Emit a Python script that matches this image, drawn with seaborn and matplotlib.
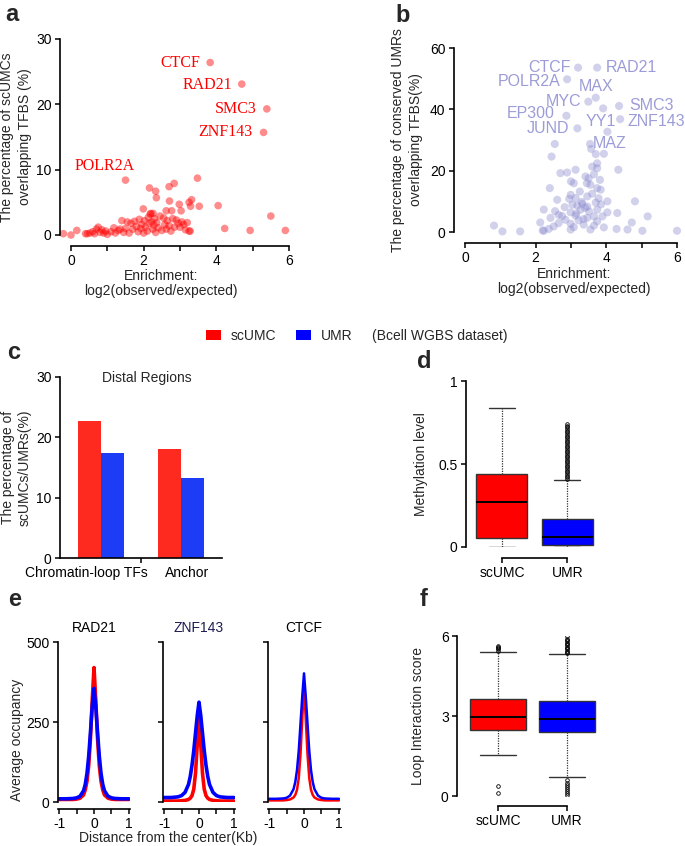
import numpy as np
import pandas as pd
import matplotlib
matplotlib.use("Agg")
import matplotlib.pyplot as plt
import seaborn as sns
from matplotlib.patches import Patch
from matplotlib.transforms import ScaledTranslation

# ---------------- data ----------------
# panel a: scUMC TFBS enrichment
a_x = [3.83, 4.70, 5.39, 5.30, 1.50, 3.48, 2.16, 2.33, 2.35, 2.70, 2.84, 1.99, 2.71, 2.98,
       3.32, 3.25, 3.29, 3.53, 4.05, 2.62, 2.77, 3.03, 5.50, 2.20, 2.26, 4.23, 4.93, 5.90, 3.28,
       -0.21, 0.00, 0.16, 0.40, 0.45, 0.52, 0.60, 0.65, 0.70, 0.75, 0.80, 0.85, 0.90, 0.95, 1.00,
       1.10, 1.18, 1.22, 1.30, 1.35, 1.40, 1.45, 1.50, 1.55, 1.60, 1.65, 1.70, 1.75, 1.80, 1.85,
       1.88, 1.92, 1.95, 2.00, 2.02, 2.05, 2.10, 2.13, 2.15, 2.18, 2.22, 2.25, 2.28, 2.30, 2.33,
       2.36, 2.40, 2.45, 2.50, 2.55, 2.58, 2.62, 2.65, 2.70, 2.75, 2.80, 2.85, 2.90, 2.95, 3.00,
       3.05, 3.10, 3.15, 3.20, 3.25]
a_y = [26.4, 23.1, 19.3, 15.7, 8.4, 8.7, 7.2, 6.7, 5.7, 7.4, 7.9, 4.0, 5.2, 4.7,
       5.4, 5.0, 4.4, 4.4, 4.5, 3.7, 3.7, 3.7, 2.9, 3.3, 3.3, 1.0, 0.7, 0.7, 0.6,
       0.2, 0.0, 0.7, 0.2, 0.2, 0.3, 0.5, 0.2, 0.9, 1.2, 0.4, 0.8, 0.3, 0.6, 0.1,
       0.5, 1.1, 0.3, 0.7, 0.9, 2.2, 0.4, 1.0, 2.0, 0.3, 1.8, 0.9, 2.1, 1.3, 0.5,
       2.4, 1.0, 1.6, 0.3, 2.2, 1.2, 0.6, 2.7, 1.8, 3.2, 2.0, 0.9, 1.5, 2.5, 0.4,
       1.9, 1.1, 2.9, 0.7, 2.6, 1.6, 0.9, 2.2, 1.4, 0.6, 2.5, 1.2, 2.3, 1.8, 1.2,
       2.0, 1.6, 0.8, 1.9, 0.6]
a_labels = ["CTCF", "RAD21", "SMC3", "ZNF143", "POLR2A"]
a_label_x = [3.55, 4.43, 5.12, 4.98, 0.11]
a_label_y = [26.3, 23.0, 19.3, 15.8, 10.6]
a_label_ha = ["right", "right", "right", "right", "left"]

# panel b: conserved UMR TFBS enrichment
b_x = [3.20, 3.74, 2.89, 3.70, 3.49, 4.36, 3.91, 2.87, 4.39, 4.03, 3.18, 2.54, 3.54, 3.57,
       3.93, 2.45, 3.70, 4.34,
       3.74, 3.60, 3.74, 3.13, 2.89, 2.70, 3.41, 3.82, 3.08, 3.45, 3.55, 3.74, 2.40, 3.84,
       3.25, 2.99, 3.46, 3.13, 2.61, 4.03, 3.70, 3.32, 3.04, 3.18, 3.46, 2.82, 2.23, 3.27,
       3.74, 3.51, 2.99, 4.03, 4.31, 2.65, 3.13, 3.65, 2.42, 3.89, 3.46, 2.84, 3.22, 3.74,
       2.13, 2.65, 2.99, 3.36, 3.65, 2.51, 3.08, 3.93, 2.37, 2.99, 3.55, 2.23,
       0.82, 1.06, 1.56, 2.20, 4.60, 5.02, 6.00, 4.81, 5.17, 4.72, 4.29,
       3.30, 3.60, 2.95, 3.40, 3.15, 3.85, 2.75, 3.50, 3.00, 3.65, 2.55, 3.35, 3.78]
b_y = [53.6, 53.6, 49.8, 43.8, 42.5, 41.1, 40.3, 37.9, 36.8, 32.7, 33.8, 28.7, 28.7, 27.1,
       25.5, 24.6, 25.4, 20.3,
       22.4, 21.3, 20.8, 20.3, 19.4, 19.2, 18.1, 17.0, 15.9, 15.9, 15.4, 14.3, 14.3, 13.8,
       13.2, 12.1, 11.6, 11.1, 10.5, 10.0, 9.6, 9.2, 8.9, 8.6, 8.3, 8.1, 7.3, 7.3,
       7.3, 6.7, 6.4, 6.4, 6.2, 5.6, 5.3, 5.1, 4.6, 5.1, 4.6, 4.0, 3.8, 3.5,
       3.1, 2.9, 2.7, 2.4, 2.1, 1.8, 1.6, 1.5, 1.0, 0.8, 0.8, 0.4,
       2.1, 0.2, 0.2, 0.5, 0.8, 0.4, 0.4, 10.0, 5.1, 3.1, 1.0,
       9.8, 12.5, 10.8, 7.9, 6.0, 9.0, 5.2, 17.5, 16.5, 18.8, 6.8, 4.2, 11.0]
b_labels = ["CTCF", "RAD21", "POLR2A", "MAX", "MYC", "SMC3", "EP300", "YY1", "ZNF143", "JUND", "MAZ"]
b_label_x = [3.00, 3.99, 2.69, 3.23, 3.28, 4.64, 2.55, 3.40, 4.59, 2.94, 3.62]
b_label_y = [53.8, 53.8, 49.2, 47.3, 42.7, 41.1, 38.5, 35.9, 35.9, 33.6, 29.0]
b_label_ha = ["right", "left", "right", "left", "right", "left", "right", "left", "left", "right", "left"]

# panel c: distal regions
c_cats = ["Chromatin-loop TFs", "Anchor"]
c_scumc = [22.7, 18.0]
c_umr = [17.4, 13.3]

# panel d: methylation level box stats
d_groups = ["scUMC", "UMR"]
d_med = [0.27, 0.058]
d_q1 = [0.054, 0.012]
d_q3 = [0.441, 0.168]
d_whislo = [0.0, 0.0]
d_whishi = [0.838, 0.403]
d_fliers_scumc = []
d_fliers_umr = [0.41, 0.42, 0.43, 0.44, 0.45, 0.46, 0.47, 0.48, 0.49, 0.50, 0.51, 0.52, 0.53,
                0.54, 0.55, 0.56, 0.57, 0.58, 0.59, 0.60, 0.61, 0.62, 0.63, 0.64, 0.65, 0.66,
                0.67, 0.68, 0.69, 0.70, 0.71, 0.72, 0.73, 0.74]

# panel e: average occupancy profiles
e_x = [-1.0, -0.8, -0.6, -0.5, -0.4, -0.3, -0.25, -0.2, -0.15, -0.1, -0.05, 0.0,
       0.05, 0.1, 0.15, 0.2, 0.25, 0.3, 0.4, 0.5, 0.6, 0.8, 1.0]
e_tfs = ["RAD21", "ZNF143", "CTCF"]
e_rad21_scumc = [8, 8, 8, 9, 12, 22, 38, 65, 115, 200, 320, 420, 320, 200, 115, 65, 38, 22, 12, 9, 8, 8, 8]
e_rad21_umr = [10, 10, 11, 13, 18, 35, 55, 90, 145, 220, 300, 355, 300, 220, 145, 90, 55, 35, 18, 13, 11, 10, 10]
e_znf143_scumc = [3, 3, 3, 4, 5, 8, 12, 20, 40, 90, 180, 268, 180, 90, 40, 20, 12, 8, 5, 4, 3, 3, 3]
e_znf143_umr = [14, 14, 16, 20, 30, 55, 80, 115, 160, 215, 270, 312, 270, 215, 160, 115, 80, 55, 30, 20, 16, 14, 14]
e_ctcf_scumc = [5, 5, 5, 6, 8, 14, 22, 38, 75, 150, 260, 368, 260, 150, 75, 38, 22, 14, 8, 6, 5, 5, 5]
e_ctcf_umr = [10, 10, 11, 13, 20, 40, 62, 100, 160, 245, 330, 402, 330, 245, 160, 100, 62, 40, 20, 13, 11, 10, 10]

# panel f: loop interaction score box stats
f_med = [2.96, 2.89]
f_q1 = [2.47, 2.41]
f_q3 = [3.65, 3.57]
f_whislo = [1.53, 0.71]
f_whishi = [5.39, 5.31]
f_fliers_scumc = [5.45, 5.50, 5.55, 5.60, 5.63, 0.36, 0.13]
f_fliers_umr = [5.35, 5.40, 5.45, 5.50, 5.55, 5.60, 5.65, 5.70, 5.75, 5.80, 5.85, 5.90, 6.00,
                6.10, 6.25, 0.59, 0.50, 0.42, 0.34, 0.26, 0.18, 0.10, 0.03]

# ---------------- style ----------------
sns.set_theme(style="ticks")
plt.rcParams["font.family"] = ["Liberation Sans", "DejaVu Sans"]
plt.rcParams.update({
    "axes.linewidth": 1.2, "xtick.major.width": 1.1, "ytick.major.width": 1.1,
    "xtick.minor.width": 1.1, "ytick.minor.width": 1.1,
    "xtick.major.size": 3.5, "ytick.major.size": 3.5,
    "xtick.minor.size": 3.5, "ytick.minor.size": 3.5,
    "xtick.labelsize": 10, "ytick.labelsize": 10, "axes.labelsize": 10,
    "xtick.color": "black", "ytick.color": "black", "axes.edgecolor": "black",
    "xtick.major.pad": 2.5, "ytick.major.pad": 2.5,
})

RED = "#ff0000"
BLUE = "#0000ff"
W, H = 685, 846
fig = plt.figure(figsize=(W / 100, H / 100), dpi=100)


def axpx(l, t, r, b):
    return fig.add_axes([l / W, 1 - b / H, (r - l) / W, (b - t) / H])


def panel_letter(x, y, s):
    fig.text(x / W, 1 - y / H, s, fontsize=17, fontweight="bold", va="baseline", ha="left")


def clean(ax):
    ax.spines["top"].set_visible(False)
    ax.spines["right"].set_visible(False)
    ax.grid(False)


# ---------------- panel a ----------------
ax = axpx(71, 39, 289, 235)
sns.scatterplot(x=a_x, y=a_y, color=RED, alpha=0.45, s=30, edgecolor="none", ax=ax, clip_on=False)
ax.set_xlim(0, 6)
ax.set_ylim(0, 30)
clean(ax)
ax.spines["left"].set_position(("outward", 8))
ax.spines["bottom"].set_position(("outward", 8))
ax.set_xticks([0, 2, 4, 6])
ax.set_xticks([1, 3, 5], minor=True)
ax.set_yticks([0, 10, 20, 30])
for t, x, y, ha in zip(a_labels, a_label_x, a_label_y, a_label_ha):
    ax.text(x, y, t, color=RED, fontsize=11.5, family=["Liberation Serif"], ha=ha, va="center")
ax.set_xlabel("Enrichment:\nlog2(observed/expected)", linespacing=1.1)
ax.xaxis.set_label_coords(0.413, -0.175)
ax.set_ylabel("The percentage of scUMCs\noverlapping TFBS (%)", linespacing=1.3)
ax.yaxis.set_label_coords(-0.18, 0.5)
panel_letter(5, 21, "a")

# ---------------- panel b ----------------
ax = axpx(465, 48, 677, 232)
sns.scatterplot(x=b_x, y=b_y, color="#8c8cd0", alpha=0.4, s=34, edgecolor="none", ax=ax, clip_on=False)
ax.set_xlim(0, 6)
ax.set_ylim(0, 60)
clean(ax)
ax.spines["left"].set_position(("outward", 8))
ax.spines["bottom"].set_position(("outward", 8))
ax.set_xticks([0, 2, 4, 6])
ax.set_xticks([1, 3, 5], minor=True)
ax.set_yticks([0, 20, 40, 60])
for t, x, y, ha in zip(b_labels, b_label_x, b_label_y, b_label_ha):
    ax.text(x, y, t, color="#9c9cd8", fontsize=11.5, ha=ha, va="center")
ax.set_xlabel("Enrichment:\nlog2(observed/expected)", linespacing=1.1)
ax.xaxis.set_label_coords(0.514, -0.19)
ax.set_ylabel("The percentage of conserved UMRs\noverlapping TFBS(%)", linespacing=1.3)
ax.yaxis.set_label_coords(-0.20, 0.5)
panel_letter(395, 22, "b")

# ---------------- legend ----------------
handles = [Patch(facecolor=RED, edgecolor="none"), Patch(facecolor=BLUE, edgecolor="none")]
fig.legend(handles, ["scUMC", "UMR"], ncol=2, loc="center left",
           bbox_to_anchor=(206 / W, 1 - 336 / H), frameon=False, fontsize=10,
           handlelength=1.1, handleheight=0.65, handletextpad=0.7, columnspacing=1.4,
           borderpad=0, borderaxespad=0)
fig.text(372 / W, 1 - 336 / H, "(Bcell WGBS dataset)", fontsize=10, va="center", ha="left")

# ---------------- panel c ----------------
ax = axpx(60, 377, 222, 558)
df_c = pd.DataFrame({"cat": c_cats * 2,
                     "grp": ["scUMC"] * 2 + ["UMR"] * 2,
                     "val": c_scumc + c_umr})
sns.barplot(data=df_c, x="cat", y="val", hue="grp", palette=["#ff2a1f", "#1d3cf5"],
            width=0.575, gap=0, saturation=1, ax=ax, legend=False, edgecolor="none")
ax.set_xlim(-0.51, 1.51)
ax.set_ylim(0, 30)
clean(ax)
ax.set_yticks([0, 10, 20, 30])
ax.set_xticks([0, 1])
ax.set_xticklabels(c_cats)
ax.set_xticks([0.5], minor=True)
ax.tick_params(axis="x", which="major", length=0, pad=6)
for lbl, dx in zip(ax.get_xticklabels(), [-15, 6]):
    lbl.set_transform(lbl.get_transform() + ScaledTranslation(dx / 100, 0, fig.dpi_scale_trans))
ax.set_xlabel("")
ax.set_ylabel("The percentage of\nscUMCs/UMRs(%)", linespacing=1.2)
ax.yaxis.set_label_coords(-0.175, 0.5)
ax.text(0.575, 29.9, "Distal Regions", fontsize=10, ha="center", va="center")
panel_letter(7, 359, "c")


# ---------------- box helper ----------------
def draw_box(ax, meds, q1s, q3s, los, his, fliers, width, capw):
    stats = []
    for i in range(2):
        stats.append(dict(med=meds[i], q1=q1s[i], q3=q3s[i], whislo=los[i], whishi=his[i],
                          fliers=fliers[i], label=d_groups[i]))
    bp = ax.bxp(stats, positions=[0, 1], widths=width, patch_artist=True,
                capwidths=capw, showfliers=True,
                boxprops=dict(edgecolor="#333333", linewidth=1.0),
                medianprops=dict(color="black", linewidth=1.4),
                whiskerprops=dict(color="#333333", linewidth=0.9, linestyle=(0, (1, 1))),
                capprops=dict(color="#333333", linewidth=1.0),
                flierprops=dict(marker="o", markersize=2.6, markerfacecolor="none",
                                markeredgecolor="black", markeredgewidth=0.6))
    for patch, c in zip(bp["boxes"], [RED, BLUE]):
        patch.set_facecolor(c)
    return bp


# ---------------- panel d ----------------
ax = axpx(466, 381, 600, 547)
draw_box(ax, d_med, d_q1, d_q3, d_whislo, d_whishi, [d_fliers_scumc, d_fliers_umr], 0.78, 0.4)
ax.set_xlim(-0.55, 1.5)
ax.set_ylim(0, 1)
clean(ax)
ax.spines["bottom"].set_position(("outward", 8))
ax.spines["bottom"].set_bounds(0, 1)
ax.set_xticks([0, 1])
ax.set_xticklabels(d_groups)
ax.set_yticks([0, 0.5, 1])
ax.set_yticklabels(["0", "0.5", "1"])
ax.set_ylabel("Methylation level")
ax.yaxis.set_label_coords(-0.285, 0.5)
panel_letter(417, 368, "d")

# ---------------- panel e ----------------
e_scumc = [e_rad21_scumc, e_znf143_scumc, e_ctcf_scumc]
e_umr = [e_rad21_umr, e_znf143_umr, e_ctcf_umr]
e_lw = [2.6, 2.6, 1.8]
e_title_col = ["black", "#1c1c50", "black"]
for i, left in enumerate([58, 163, 268]):
    ax = axpx(left, 642, left + 72, 802)
    df_e = pd.DataFrame({"x": e_x * 2, "y": e_scumc[i] + e_umr[i],
                         "grp": ["scUMC"] * len(e_x) + ["UMR"] * len(e_x)})
    sns.lineplot(data=df_e, x="x", y="y", hue="grp", palette=[RED, BLUE],
                 linewidth=e_lw[i], ax=ax, legend=False)
    ax.set_xlim(-1.03, 1.03)
    ax.set_ylim(0, 500)
    clean(ax)
    ax.spines["bottom"].set_position(("outward", 5))
    ax.set_xticks([-1, 0, 1])
    ax.set_xticklabels(["-1", "0", "1"])
    ax.set_xticks([-0.5, 0.5], minor=True)
    ax.set_yticks([0, 250, 500])
    ax.set_xlabel("")
    ax.set_title(e_tfs[i], fontsize=10, pad=7, color=e_title_col[i])
    if i == 0:
        ax.set_ylabel("Average occupancy")
        ax.yaxis.set_label_coords(-0.47, 0.39)
    else:
        ax.set_yticklabels([])
        ax.set_ylabel("")
fig.text(168 / W, 1 - 838 / H, "Distance from the center(Kb)", fontsize=10, ha="center", va="center")
panel_letter(8, 606, "e")

# ---------------- panel f ----------------
ax = axpx(457, 636, 602, 796)
draw_box(ax, f_med, f_q1, f_q3, f_whislo, f_whishi, [f_fliers_scumc, f_fliers_umr], 0.81, 0.52)
ax.set_xlim(-0.6, 1.51)
ax.set_ylim(0, 6)
clean(ax)
ax.spines["bottom"].set_position(("outward", 7))
ax.spines["bottom"].set_bounds(0, 1)
ax.set_xticks([0, 1])
ax.set_xticklabels(d_groups)
ax.set_yticks([0, 3, 6])
ax.set_ylabel("Loop Interaction score")
ax.yaxis.set_label_coords(-0.22, 0.5)
panel_letter(420, 606, "f")

fig.savefig("out.png", dpi=100)
